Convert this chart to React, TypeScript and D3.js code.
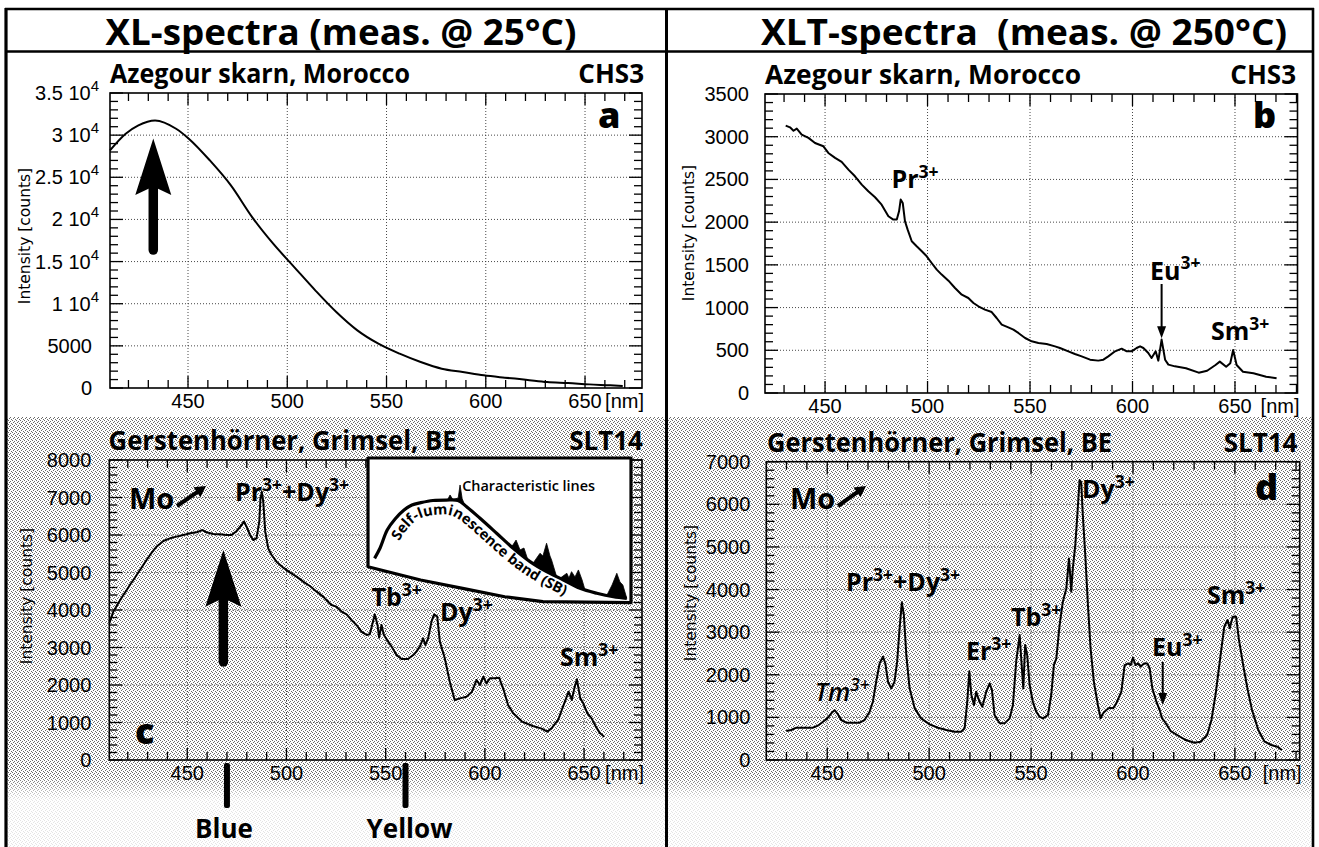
import React from "react";
import * as d3 from "d3";

const SANS = "'Open Sans', 'Noto Sans', 'DejaVu Sans', sans-serif";
const TICK = "'Liberation Sans', Arimo, Arial, sans-serif";
const AXT = "'DejaVu Sans', 'Liberation Sans', sans-serif";

// ---------------- data ----------------
const xTicks = [450, 500, 550, 600, 650];

// (a) XL 25°C, Azegour
const nmA = [410.7, 418.6, 425, 433.4, 444, 450.4, 461, 471.6, 482.3, 492.9, 503.5, 514.1, 524.7, 535.3, 545.9, 556.6, 567.2, 577.8, 588.4, 599, 609.6, 620.2, 630.9, 641.5, 652.1, 662.7, 669];
const countsA = [28200, 30170, 31160, 31750, 30760, 29580, 27000, 24040, 20280, 17120, 14350, 11590, 9015, 6840, 5260, 4070, 3080, 2290, 1900, 1500, 1230, 990, 710, 590, 430, 320, 240];

// (b) XLT 250°C, Azegour
const nmB = [430.8, 432.9, 434.6, 436.2, 438.6, 441.9, 445.1, 449.2, 451.6, 454.9, 458.1, 461.4, 464.6, 467.9, 471.1, 474.4, 477.6, 480.9, 483.3, 485, 486.1, 486.9, 487.9, 489, 490.3, 492.3, 494.7, 497.2, 499.6, 502, 504.5, 506.9, 510.2, 513.4, 516.7, 519.9, 522.4, 524.8, 528, 531.3, 533.7, 536.2, 539.4, 541.9, 544.3, 547.6, 550.8, 554.1, 558.1, 562.2, 564.6, 568.7, 571.9, 575.2, 579.3, 583.3, 585.8, 588.2, 591.5, 594.7, 597.2, 599.6, 602, 603.7, 605.3, 607.7, 609.3, 611.3, 612.6, 614.2, 615.9, 617.5, 620.7, 626.1, 632.3, 636.4, 640.5, 642.6, 645.7, 647.7, 649.1, 650.8, 653.9, 659, 665.2, 670.3];
const countsB = [3130, 3110, 3070, 3095, 3025, 2986, 2927, 2888, 2810, 2752, 2705, 2615, 2537, 2439, 2361, 2291, 2205, 2069, 2030, 2030, 2127, 2264, 2225, 2010, 1912, 1776, 1717, 1659, 1600, 1522, 1444, 1386, 1315, 1229, 1151, 1112, 1054, 1015, 976, 948, 878, 800, 769, 742, 703, 644, 605, 585, 574, 546, 527, 488, 457, 429, 390, 379, 390, 429, 488, 519, 488, 488, 527, 546, 527, 468, 410, 488, 379, 625, 390, 332, 312, 289, 238, 261, 328, 367, 308, 348, 503, 328, 249, 231, 191, 172];

// (c) XL 25°C, Gerstenhörner
const nmC = [410.7, 412.7, 415.2, 417.8, 421.1, 424.5, 427.8, 431.2, 434.5, 437.9, 441.3, 444.6, 448, 451.3, 454.7, 457.7, 459.7, 463.1, 466.5, 469.8, 472.3, 474.9, 477.4, 478.6, 479.9, 481.6, 483.3, 484.9, 486.3, 486.9, 487.6, 488.3, 489.3, 490.8, 492.5, 495, 498.4, 501.7, 505.1, 508.4, 511.8, 515.2, 518.5, 521, 522.7, 525.2, 527.8, 530.3, 532.8, 535.3, 537.8, 540.4, 542, 543.4, 544.5, 545.9, 546.7, 547.9, 549.1, 551.3, 553, 555.5, 558, 561.3, 563.9, 565.5, 567.2, 568.9, 570, 571.4, 573.1, 574.4, 576, 577.3, 579.8, 582.3, 584.8, 587.4, 590.7, 593.3, 595.8, 597.5, 599.2, 600.8, 602.5, 605, 607.2, 609.2, 611.7, 614.3, 618.8, 624.1, 628.3, 631.5, 633.6, 636.9, 640, 642.2, 643.8, 645.3, 646.4, 648.1, 649.6, 651.7, 653.8, 655.9, 658.1, 660.2];
const countsC = [3644, 3956, 4178, 4400, 4667, 4933, 5200, 5467, 5689, 5840, 5911, 5956, 6000, 6044, 6071, 6133, 6071, 6027, 6018, 6000, 6000, 6107, 6267, 6356, 6222, 6000, 5867, 5911, 6356, 6978, 7150, 6889, 6089, 5644, 5467, 5289, 5129, 5004, 4889, 4756, 4640, 4489, 4356, 4222, 4133, 4089, 3956, 3884, 3733, 3600, 3422, 3333, 3351, 3644, 3884, 3600, 3262, 3600, 3333, 3156, 3022, 2800, 2693, 2693, 2800, 2889, 3022, 3244, 3067, 3244, 3689, 3884, 3822, 3156, 2711, 2089, 1600, 1644, 1689, 1804, 2133, 2000, 2222, 2044, 2178, 2178, 2196, 1911, 1467, 1244, 1022, 907, 844, 756, 844, 1067, 1511, 1822, 1600, 1956, 2150, 1644, 1511, 1244, 1111, 889, 711, 622];

// (d) XLT 250°C, Gerstenhörner
const nmD = [429.9, 432.3, 434.8, 438.9, 443, 445.4, 447.9, 450, 452, 453.6, 454.9, 456.9, 459.3, 462.6, 465.9, 468.3, 470.8, 472.4, 474, 475.7, 477.3, 478.5, 479.8, 481.4, 483, 484.3, 485.5, 486.6, 487.6, 488.8, 490.4, 492.9, 496.1, 500.2, 504.3, 508.4, 512.5, 515.7, 517.4, 518.7, 519.7, 520.7, 522, 523.1, 524.7, 526.1, 528, 529.7, 530.8, 532.1, 534.6, 537, 539.5, 541.1, 542.7, 544.4, 545.5, 546.2, 547.1, 548.1, 549.3, 550.9, 552.5, 554.2, 555.8, 558.3, 559.9, 561.2, 562.4, 564, 565.6, 567.3, 568.6, 569.2, 569.7, 570.5, 571.7, 572.7, 573.8, 574.6, 575.4, 576.6, 577.9, 579.2, 580.8, 582.8, 584.1, 585.3, 586.9, 588.6, 590.2, 591.8, 594.3, 595.9, 597.6, 598.9, 600, 601.3, 602.5, 603.8, 605.4, 607.1, 608.2, 609.5, 611.5, 613.1, 614.3, 615.6, 618.5, 621.7, 625.9, 630.1, 633.2, 636.4, 638.5, 640.6, 643.1, 644.8, 646.4, 647.5, 648.9, 650.6, 652, 654.2, 656.3, 658.4, 661.5, 664.6, 667.8, 670.9, 673];
const countsD = [680, 704, 758, 758, 758, 805, 899, 977, 1095, 1170, 1095, 938, 876, 876, 876, 938, 1134, 1368, 1837, 2267, 2424, 2267, 1837, 1681, 1837, 2307, 3088, 3700, 3401, 2463, 1681, 1212, 977, 837, 758, 704, 665, 665, 743, 1368, 2080, 1525, 1290, 1603, 1368, 1251, 1603, 1798, 1642, 1056, 860, 860, 977, 1290, 2307, 2932, 2150, 1681, 2697, 2463, 1759, 1368, 1134, 1016, 977, 1056, 1525, 2228, 2385, 3166, 3714, 4027, 4730, 4339, 3948, 4496, 5043, 5747, 6570, 6520, 5747, 4808, 3636, 2619, 1837, 1290, 977, 1095, 1173, 1228, 1212, 1329, 1603, 2228, 2267, 2228, 2400, 2228, 2267, 2189, 2267, 2267, 2150, 1681, 1368, 1173, 977, 899, 680, 587, 469, 406, 430, 587, 939, 1565, 2504, 3129, 3286, 3091, 3364, 3364, 2817, 2191, 1643, 1174, 704, 430, 352, 313, 235];

// y tick labels
const yTicksA = [0, 5000, 10000, 15000, 20000, 25000, 30000, 35000];
const yLabelsA = ["0", "5000", "1 10", "1.5 10", "2 10", "2.5 10", "3 10", "3.5 10"];
const yExpA = ["", "", "4", "4", "4", "4", "4", "4"];
const yTicksB = [0, 500, 1000, 1500, 2000, 2500, 3000, 3500];
const yTicksC = [0, 1000, 2000, 3000, 4000, 5000, 6000, 7000, 8000];
const yTicksD = [0, 1000, 2000, 3000, 4000, 5000, 6000, 7000];

// inset schematic (normalised 0..100 units)
const sbX = [2.5, 4.6, 7.3, 10.3, 13.7, 16.7, 20.1, 24.7, 29.7, 34.2, 37.5, 42.6, 48.9, 55.2, 61.6, 67.9, 74.3, 80.6, 87, 93.3, 98.4];
const sbY = [30.8, 37.9, 50.3, 57.9, 64.1, 67.6, 69.2, 70.7, 71, 70.7, 66.4, 58.4, 48.1, 37.7, 28.5, 21.6, 15.9, 10.1, 6.7, 4.3, 3.2];
const insetEdgeX = [100, 66.5, 52, 36, 20, 0];
const insetEdgeY = [0.2, 0.9, 4.3, 10.1, 15.9, 25];
const spikeGroups: number[][][] = [
  [[30.2, 71], [31.2, 74.5], [32.3, 71.2], [34.3, 72.5], [35, 81.4], [35.8, 72], [36.8, 67.5]],
  [[54.6, 38.8], [56.3, 43.4], [57.8, 36.6], [59.3, 37.9], [60.8, 29.7]],
  [[62.7, 26.5], [65.4, 34.3], [66.5, 32.4], [67.9, 41.2], [69.2, 32.4], [69.8, 29.7], [71.7, 18.5]],
  [[73, 16.5], [75.6, 20.5], [76.4, 17.2], [77.4, 21.6], [78.7, 17.9], [80, 22.8], [81.4, 15.9], [82.5, 9.6]],
  [[90.8, 5.2], [92.8, 12.4], [94.6, 20.5], [95.8, 14.5], [96.9, 12.4], [98.4, 3.2]],
];

// ---------------- panels ----------------
type Frame = { l: number; r: number; t: number; b: number };
interface PanelDef {
  frame: Frame;
  xDomain: [number, number];
  yMax: number;
  yMinorStep: number;
  nm: number[];
  counts: number[];
  smooth: boolean;
  yTicks: number[];
  yLabels: string[];
  yExp: string[];
  labelGap: number;
  yTitle: [number, number];
}

const panelA: PanelDef = {
  frame: { l: 110, r: 642, t: 93, b: 388 }, xDomain: [410.7, 678.7], yMax: 35000, yMinorStep: 1000,
  nm: nmA, counts: countsA, smooth: true, yTicks: yTicksA, yLabels: yLabelsA, yExp: yExpA, labelGap: 18, yTitle: [25, 236],
};
const panelB: PanelDef = {
  frame: { l: 765, r: 1297.5, t: 94, b: 393 }, xDomain: [420.7, 680.5], yMax: 3500, yMinorStep: 100,
  nm: nmB, counts: countsB, smooth: false, yTicks: yTicksB, yLabels: yTicksB.map(String), yExp: yTicksB.map(() => ""), labelGap: 16, yTitle: [689, 233],
};
const panelC: PanelDef = {
  frame: { l: 109.3, r: 642, t: 460, b: 760 }, xDomain: [410.7, 679.2], yMax: 8000, yMinorStep: 200,
  nm: nmC, counts: countsC, smooth: false, yTicks: yTicksC, yLabels: yTicksC.map(String), yExp: yTicksC.map(() => ""), labelGap: 18, yTitle: [27, 596],
};
const panelD: PanelDef = {
  frame: { l: 766.3, r: 1299.7, t: 461.7, b: 760 }, xDomain: [420.1, 681.8], yMax: 7000, yMinorStep: 200,
  nm: nmD, counts: countsD, smooth: false, yTicks: yTicksD, yLabels: yTicksD.map(String), yExp: yTicksD.map(() => ""), labelGap: 16, yTitle: [691, 593],
};

function scalesOf(p: PanelDef) {
  const x = d3.scaleLinear().domain(p.xDomain).range([p.frame.l, p.frame.r]);
  const y = d3.scaleLinear().domain([0, p.yMax]).range([p.frame.b, p.frame.t]);
  return { x, y };
}

function PanelAxes({ p }: { p: PanelDef }) {
  const { l, r, t, b } = p.frame;
  const { x, y } = scalesOf(p);
  const xMinor = d3.range(Math.ceil(p.xDomain[0] / 10) * 10, p.xDomain[1], 10);
  const yMinor = d3.range(0, p.yMax + 0.001, p.yMinorStep);
  const major = new Set(p.yTicks);
  return (
    <g>
      {xTicks.map((v) => (
        <line key={"gx" + v} x1={x(v)} x2={x(v)} y1={t} y2={b} stroke="#333" strokeWidth={0.9} strokeDasharray="1 2" />
      ))}
      {p.yTicks.filter((v) => v > 0 && v < p.yMax).map((v) => (
        <line key={"gy" + v} x1={l} x2={r} y1={y(v)} y2={y(v)} stroke="#333" strokeWidth={0.9} strokeDasharray="1 2" />
      ))}
      {xMinor.map((v) => {
        const len = v % 50 === 0 ? 12 : 8;
        return (
          <g key={"tx" + v} stroke="#000" strokeWidth={1.3}>
            <line x1={x(v)} x2={x(v)} y1={b} y2={b - len} />
            <line x1={x(v)} x2={x(v)} y1={t} y2={t + len} />
          </g>
        );
      })}
      {yMinor.map((v) => {
        const len = major.has(v) ? 13 : 8;
        return (
          <g key={"ty" + v} stroke="#000" strokeWidth={1.3}>
            <line x1={l} x2={l + len} y1={y(v)} y2={y(v)} />
            <line x1={r} x2={r - len} y1={y(v)} y2={y(v)} />
          </g>
        );
      })}
      <rect x={l} y={t} width={r - l} height={b - t} fill="none" stroke="#000" strokeWidth={1.6} />
      {xTicks.map((v) => (
        <text key={"lx" + v} x={x(v)} y={b + 13} dy="0.35em" textAnchor="middle" fontFamily={TICK} fontSize={20}>
          {v}
        </text>
      ))}
      <text x={r + 2} y={b + 13} dy="0.35em" textAnchor="end" fontFamily={TICK} fontSize={20}>[nm]</text>
      {p.yTicks.map((v, i) => (
        <text key={"ly" + v} x={p.yExp[i] ? l - 11 : l - p.labelGap} y={y(v)} dy="0.35em" textAnchor="end" fontFamily={TICK} fontSize={20}>
          {p.yLabels[i]}
          {p.yExp[i] ? <tspan dy={-9} fontSize={15}>{p.yExp[i]}</tspan> : null}
        </text>
      ))}
      <text transform={`translate(${p.yTitle[0]},${p.yTitle[1]}) rotate(-90)`} textAnchor="middle" dy="0.35em" fontFamily={AXT} fontSize={15.5}>
        Intensity [counts]
      </text>
    </g>
  );
}

function Spectrum({ p }: { p: PanelDef }) {
  const { x, y } = scalesOf(p);
  const data = d3.zip(p.nm, p.counts) as [number, number][];
  const line = d3
    .line<[number, number]>()
    .x((d) => x(d[0]))
    .y((d) => y(d[1]))
    .curve(p.smooth ? d3.curveMonotoneX : d3.curveLinear);
  return <path d={line(data) || ""} fill="none" stroke="#000" strokeWidth={2} strokeLinejoin="round" />;
}

function Ion({ x, y, parts, size = 25, italic = false, weight = 700 }: { x: number; y: number; parts: string[]; size?: number; italic?: boolean; weight?: number }) {
  const sup = size * 0.7;
  const rise = size * 0.42;
  let raised = false;
  const kids = parts.map((s, i) => {
    const isSup = i % 2 === 1;
    let dy = 0;
    if (isSup && !raised) { dy = -rise; raised = true; }
    else if (!isSup && raised) { dy = rise; raised = false; }
    return (
      <tspan key={i} dy={dy} fontSize={isSup ? sup : size}>{s}</tspan>
    );
  });
  return (
    <text x={x} y={y} fontFamily={SANS} fontWeight={weight} fontSize={size} fontStyle={italic ? "italic" : "normal"}>
      {kids}
    </text>
  );
}

function Arrow({ x1, y1, x2, y2, w = 2, len = 12, hw = 4.5 }: { x1: number; y1: number; x2: number; y2: number; w?: number; len?: number; hw?: number }) {
  const dx = x2 - x1, dy = y2 - y1;
  const L = Math.hypot(dx, dy);
  const ux = dx / L, uy = dy / L;
  const bx = x2 - ux * len, by = y2 - uy * len;
  const px = -uy, py = ux;
  return (
    <g>
      <line x1={x1} y1={y1} x2={bx + ux * 2} y2={by + uy * 2} stroke="#000" strokeWidth={w} />
      <path d={`M${x2},${y2} L${bx + px * hw},${by + py * hw} L${bx - px * hw},${by - py * hw} Z`} fill="#000" />
    </g>
  );
}

function BigArrow({ cx, tip, base, notch, bottom, hw = 18, sw = 9.5 }: { cx: number; tip: number; base: number; notch: number; bottom: number; hw?: number; sw?: number }) {
  return (
    <g>
      <line x1={cx} x2={cx} y1={notch} y2={bottom - sw / 2} stroke="#000" strokeWidth={sw} strokeLinecap="round" />
      <path d={`M${cx},${tip} L${cx + hw},${base} L${cx},${notch} L${cx - hw},${base} Z`} fill="#000" />
    </g>
  );
}

function smoothPts(pts: [number, number][], half: number): [number, number][] {
  return pts.map((_, i) => {
    const lo = Math.max(0, i - half), hi = Math.min(pts.length - 1, i + half);
    let sx = 0, sy = 0, n = 0;
    for (let k = lo; k <= hi; k++) { sx += pts[k][0]; sy += pts[k][1]; n++; }
    return [sx / n, sy / n] as [number, number];
  });
}

function Inset() {
  const ix = d3.scaleLinear().domain([0, 100]).range([368, 631]);
  const iy = d3.scaleLinear().domain([0, 100]).range([603, 458]);
  const sb = d3.scaleLinear().domain(sbX).range(sbY).clamp(true);
  const edge = d3.zip(insetEdgeX, insetEdgeY) as [number, number][];
  const outline =
    `M${ix(0)},${iy(100)} L${ix(100)},${iy(100)} ` +
    edge.map(([a, b]) => `L${ix(a)},${iy(b)}`).join(" ") + " Z";
  const sbPts = d3.zip(sbX, sbY).map(([a, b]) => [ix(a), iy(b)] as [number, number]);
  const sbLine = d3.line<[number, number]>().curve(d3.curveCatmullRom)(sbPts) || "";
  // offset path for the curved label (computed from a densified, smoothed copy of the band)
  const dense = d3.range(sbX[0], sbX[sbX.length - 1], 0.4).map((v) => [ix(v), iy(sb(v))] as [number, number]);
  const sm = smoothPts(dense, 12);
  const off = 14;
  const offPts = sm.map((pt, i) => {
    const p0 = sm[Math.max(0, i - 3)];
    const p1 = sm[Math.min(sm.length - 1, i + 3)];
    const dx = p1[0] - p0[0], dy = p1[1] - p0[1];
    const L = Math.hypot(dx, dy) || 1;
    return [pt[0] + (-dy / L) * off, pt[1] + (dx / L) * off] as [number, number];
  });
  const offLine = d3.line<[number, number]>()(smoothPts(offPts, 10)) || "";
  const spikes = spikeGroups.map((g) => {
    const x0 = g[0][0], x1 = g[g.length - 1][0];
    const top: [number, number][] = [[x0, sb(x0)], ...g.slice(1, -1).map((q) => [q[0], q[1]] as [number, number]), [x1, sb(x1)]];
    const back = d3.range(x1, x0, -0.5).map((v) => [v, sb(v)] as [number, number]);
    const pts = [...top, ...back];
    return "M" + pts.map(([a, b]) => `${ix(a)},${iy(b)}`).join(" L") + " Z";
  });
  return (
    <g>
      <path d={outline} fill="#fff" stroke="#000" strokeWidth={3.2} strokeLinejoin="round" />
      {spikes.map((d, i) => (
        <path key={i} d={d} fill="#000" stroke="#000" strokeWidth={0.8} strokeLinejoin="round" />
      ))}
      <path d={sbLine} fill="none" stroke="#000" strokeWidth={3.2} />
      <path id="sbTextPath" d={offLine} fill="none" stroke="none" />
      <text fontFamily={SANS} fontWeight={700} fontSize={14.5}>
        <textPath href="#sbTextPath" startOffset={6}>Self-luminescence band (SB)</textPath>
      </text>
      <text x={ix(35.8)} y={491} fontFamily={SANS} fontWeight={600} fontSize={13.5} textLength={133} lengthAdjust="spacingAndGlyphs">
        Characteristic lines
      </text>
    </g>
  );
}

export default function App() {
  const sA = scalesOf(panelA);
  const sB = scalesOf(panelB);
  const sC = scalesOf(panelC);
  const sD = scalesOf(panelD);
  return (
    <svg width={1319} height={847} viewBox="0 0 1319 847" style={{ position: "absolute", left: 0, top: 0, display: "block" }}>
      <defs>
        <pattern id="stip" width={4} height={4} patternUnits="userSpaceOnUse">
          <rect x={0} y={0} width={1} height={1} fill="#6a6a6a" />
          <rect x={2} y={1} width={1} height={1} fill="#6a6a6a" />
          <rect x={1} y={2} width={1} height={1} fill="#6a6a6a" />
          <rect x={3} y={3} width={1} height={1} fill="#6a6a6a" />
        </pattern>
        <linearGradient id="fade" gradientUnits="userSpaceOnUse" x1={0} y1={776} x2={0} y2={800}>
          <stop offset="0" stopColor="#fff" stopOpacity={0} />
          <stop offset="1" stopColor="#fff" stopOpacity={0.82} />
        </linearGradient>
      </defs>
      <rect x={0} y={0} width={1319} height={847} fill="#fff" />
      <rect x={6} y={417} width={1307} height={430} fill="url(#stip)" shapeRendering="crispEdges" />
      <rect x={6} y={760} width={1307} height={87} fill="url(#fade)" />

      {/* frame */}
      <g stroke="#000" fill="none">
        <line x1={6} x2={6} y1={8} y2={847} strokeWidth={3.2} />
        <line x1={1313} x2={1313} y1={8} y2={847} strokeWidth={2.6} />
        <line x1={5} x2={1314} y1={9} y2={9} strokeWidth={2.6} />
        <line x1={5} x2={1314} y1={51.5} y2={51.5} strokeWidth={2.6} />
        <line x1={666.5} x2={666.5} y1={8} y2={847} strokeWidth={3} />
      </g>

      {/* titles */}
      <text x={341} y={45} textAnchor="middle" fontFamily={SANS} fontWeight={700} fontSize={35} textLength={471} lengthAdjust="spacingAndGlyphs">
        XL-spectra (meas. @ 25°C)
      </text>
      <text x={1024} y={45} textAnchor="middle" fontFamily={SANS} fontWeight={700} fontSize={35} textLength={526} lengthAdjust="spacingAndGlyphs">
        {"XLT-spectra\u00A0\u00A0(meas. @ 250°C)"}
      </text>

      {/* sub titles */}
      <text x={110} y={83} fontFamily={SANS} fontWeight={700} fontSize={26} textLength={300} lengthAdjust="spacingAndGlyphs">Azegour skarn, Morocco</text>
      <text x={644} y={83} textAnchor="end" fontFamily={SANS} fontWeight={700} fontSize={26}>CHS3</text>
      <text x={765} y={83.5} fontFamily={SANS} fontWeight={700} fontSize={26} textLength={316} lengthAdjust="spacingAndGlyphs">Azegour skarn, Morocco</text>
      <text x={1296} y={83.5} textAnchor="end" fontFamily={SANS} fontWeight={700} fontSize={26}>CHS3</text>
      <text x={108.6} y={450} fontFamily={SANS} fontWeight={700} fontSize={26} textLength={348} lengthAdjust="spacingAndGlyphs">Gerstenhörner, Grimsel, BE</text>
      <text x={643} y={450} textAnchor="end" fontFamily={SANS} fontWeight={700} fontSize={26}>SLT14</text>
      <text x={767} y={451.5} fontFamily={SANS} fontWeight={700} fontSize={26} textLength={345} lengthAdjust="spacingAndGlyphs">Gerstenhörner, Grimsel, BE</text>
      <text x={1297.5} y={451.5} textAnchor="end" fontFamily={SANS} fontWeight={700} fontSize={26}>SLT14</text>

      {/* panel a */}
      <PanelAxes p={panelA} />
      <Spectrum p={panelA} />
      <BigArrow cx={sA.x(432.5)} tip={sA.y(29600)} base={sA.y(22900)} notch={sA.y(23900)} bottom={sA.y(15800)} />
      <text x={598} y={128} fontFamily={SANS} fontWeight={800} fontSize={36}>a</text>

      {/* panel b */}
      <PanelAxes p={panelB} />
      <Spectrum p={panelB} />
      <Ion x={891.5} y={188} parts={["Pr", "3+"]} />
      <Ion x={1150} y={279.5} parts={["Eu", "3+"]} />
      <Arrow x1={sB.x(614.2)} y1={284} x2={sB.x(614.2)} y2={sB.y(640)} />
      <Ion x={1211} y={340} parts={["Sm", "3+"]} />
      <text x={1253} y={128} fontFamily={SANS} fontWeight={800} fontSize={36}>b</text>

      {/* panel c */}
      <PanelAxes p={panelC} />
      <Inset />
      <Spectrum p={panelC} />
      <BigArrow cx={sC.x(468.2)} tip={sC.y(5600)} base={sC.y(4090)} notch={sC.y(4320)} bottom={sC.y(2490)} />
      <text x={129} y={509} fontFamily={SANS} fontWeight={700} fontSize={29}>Mo</text>
      <Arrow x1={177} y1={506} x2={206} y2={486} w={4} len={11} hw={6} />
      <Ion x={235} y={501} parts={["Pr", "3+", "+Dy", "3+"]} />
      <Ion x={371.5} y={606} parts={["Tb", "3+"]} />
      <Ion x={440} y={621} parts={["Dy", "3+"]} />
      <Ion x={560} y={666} parts={["Sm", "3+"]} />
      <text x={135} y={744} fontFamily={SANS} fontWeight={800} fontSize={36}>c</text>
      <rect x={sC.x(470) - 3} y={763} width={6} height={45} rx={2} fill="#000" />
      <rect x={sC.x(560) - 3} y={763} width={6} height={45} rx={2} fill="#000" />
      <text x={sC.x(470) - 3} y={838} textAnchor="middle" fontFamily={SANS} fontWeight={700} fontSize={26}>Blue</text>
      <text x={sC.x(560) + 4} y={838} textAnchor="middle" fontFamily={SANS} fontWeight={700} fontSize={26}>Yellow</text>

      {/* panel d */}
      <PanelAxes p={panelD} />
      <Spectrum p={panelD} />
      <text x={790} y={509} fontFamily={SANS} fontWeight={700} fontSize={29}>Mo</text>
      <Arrow x1={838} y1={506} x2={866} y2={486} w={4} len={11} hw={6} />
      <Ion x={815} y={701} parts={["Tm", "3+"]} italic weight={600} />
      <Ion x={846} y={591} parts={["Pr", "3+", "+Dy", "3+"]} />
      <Ion x={966} y={660} parts={["Er", "3+"]} />
      <Ion x={1011} y={626} parts={["Tb", "3+"]} />
      <Ion x={1082} y={498} parts={["Dy", "3+"]} />
      <Ion x={1152} y={656} parts={["Eu", "3+"]} />
      <Arrow x1={sD.x(614.6)} y1={662} x2={sD.x(614.6)} y2={705} />
      <Ion x={1207} y={604} parts={["Sm", "3+"]} />
      <text x={1255} y={500} fontFamily={SANS} fontWeight={800} fontSize={36}>d</text>
    </svg>
  );
}
